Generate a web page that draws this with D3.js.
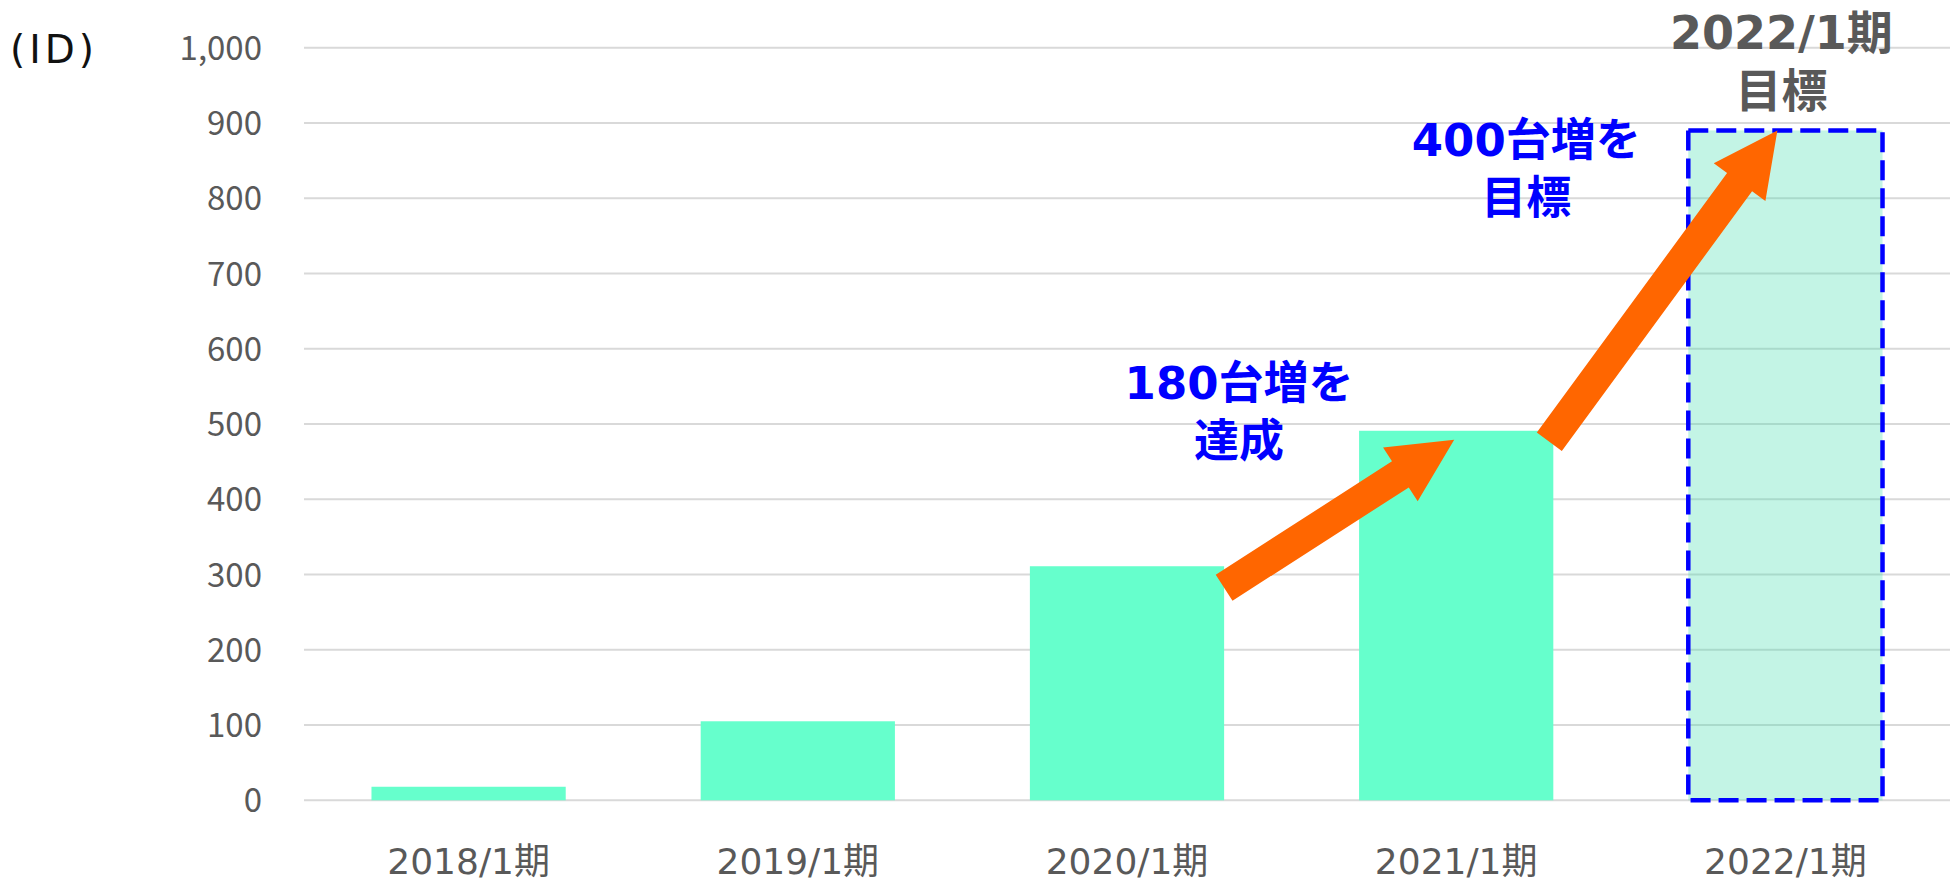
<!DOCTYPE html>
<html>
<head>
<meta charset="utf-8">
<script src="https://cdn.jsdelivr.net/npm/d3@7"></script>
<style>
  body { margin: 0; background: #ffffff; }
  text { font-family: "DejaVu Sans", "Noto Sans CJK JP", sans-serif; }
</style>
</head>
<body>
<svg id="v1" width="1950" height="883"></svg>
<script>
// chart data
var categories = ["2018/1期", "2019/1期", "2020/1期", "2021/1期", "2022/1期"];
var values = [18, 105, 311, 491, 890];
var targetCategory = "2022/1期";
var yTicks = [0, 100, 200, 300, 400, 500, 600, 700, 800, 900, 1000];
var unitLabel = "(ID)";
var targetLabel = ["2022/1期", "目標"];
var note1 = ["180台増を", "達成"];
var note2 = ["400台増を", "目標"];

v1()

function v1() {
    var svg = d3.select("#v1")
    var left = 304, right = 1950, top = 47.7, bottom = 800.3;

    //scales
    var x = d3.scaleBand()
        .domain(categories)
        .range([left, right])
        .paddingInner(0.41)
        .paddingOuter(0.205);
    var y = d3.scaleLinear()
        .domain([0, 1000])
        .range([bottom, top]);
    var bw = x.bandwidth();

    //gridlines
    svg.append("g")
        .selectAll("line")
        .data(yTicks)
        .enter()
        .append("line")
        .attr("x1", left)
        .attr("x2", right)
        .attr("y1", d => y(d))
        .attr("y2", d => y(d))
        .style("stroke", "#d9d9d9")
        .style("stroke-width", 2)

    //y axis labels
    var yAxis = d3.axisLeft(y)
        .tickValues(yTicks)
        .tickSize(0)
        .tickPadding(0)
        .tickFormat(d3.format(","));
    var gy = svg.append("g")
        .attr("transform", "translate(262,0)")
        .call(yAxis);
    gy.select(".domain").remove();
    gy.selectAll("text")
        .attr("dy", "0.35em")
        .style("font-size", "33px")
        .style("font-family", "'Noto Sans CJK JP', sans-serif")
        .style("fill", "#595959");

    //x axis labels
    var xAxis = d3.axisBottom(x).tickSize(0).tickPadding(0);
    var gx = svg.append("g")
        .attr("transform", "translate(0,861)")
        .call(xAxis);
    gx.select(".domain").remove();
    gx.selectAll("text")
        .attr("dy", "0.36em")
        .style("font-size", "36px")
        .style("font-family", "'DejaVu Sans', 'Noto Sans CJK JP', sans-serif")
        .style("fill", "#595959");

    //unit
    svg.append("text")
        .attr("x", 10)
        .attr("y", 63)
        .style("font-size", "39px")
        .style("letter-spacing", "4px")
        .style("fill", "#111111")
        .text(unitLabel);

    //bars
    var data = categories.map((c, i) => ({ cat: c, value: values[i] }));
    svg.append("g")
        .selectAll("rect")
        .data(data.filter(d => d.cat != targetCategory))
        .enter()
        .append("rect")
        .attr("x", d => x(d.cat))
        .attr("y", d => y(d.value))
        .attr("width", bw)
        .attr("height", d => y(0) - y(d.value))
        .style("fill", "#66ffcc");

    //target bar
    svg.append("g")
        .selectAll("rect")
        .data(data.filter(d => d.cat == targetCategory))
        .enter()
        .append("rect")
        .attr("x", d => x(d.cat))
        .attr("y", d => y(d.value))
        .attr("width", bw)
        .attr("height", d => y(0) - y(d.value))
        .style("fill", "rgb(61,220,170)")
        .style("fill-opacity", 0.31)
        .style("stroke", "#0000ff")
        .style("stroke-width", 4.5)
        .style("stroke-dasharray", "20,8");

    //arrows
    var v = {};
    data.forEach(d => v[d.cat] = d.value);
    var arrows = [
        [x("2020/1期") + bw, y(v["2020/1期"]) + 21.5, x("2021/1期") + bw / 2 - 2, y(v["2021/1期"]) + 9],
        [x("2021/1期") + bw - 4, y(v["2021/1期"]) + 11, x("2022/1期") + bw / 2 - 8, y(v["2022/1期"])]
    ];
    svg.append("g")
        .selectAll("path")
        .data(arrows)
        .enter()
        .append("path")
        .attr("d", d => arrowPath(d[0], d[1], d[2], d[3], 31, 64, 64))
        .style("fill", "#ff6600");

    //notes
    addLines(svg, note1, x("2021/1期") - 120, 383, "#0000ff", 45);
    addLines(svg, note2, x("2022/1期") - 162, 140, "#0000ff", 45);
    addLines(svg, targetLabel, x(targetCategory) + bw / 2 - 4, 32, "#595959", 46);
}

function addLines(svg, lines, cx, cy, color, size) {
    svg.append("g")
        .selectAll("text")
        .data(lines)
        .enter()
        .append("text")
        .attr("x", cx)
        .attr("y", (d, i) => cy + i * 58)
        .attr("dy", "0.36em")
        .attr("text-anchor", "middle")
        .style("font-size", size + "px")
        .style("font-weight", "bold")
        .style("fill", color)
        .text(d => d);
}

function arrowPath(x1, y1, x2, y2, w, hw, hl) {
    var dx = x2 - x1, dy = y2 - y1;
    var len = Math.sqrt(dx * dx + dy * dy);
    var ux = dx / len, uy = dy / len;
    var nx = -uy, ny = ux;
    var bx = x2 - ux * hl, by = y2 - uy * hl;
    var pts = [
        [x1 + nx * w / 2, y1 + ny * w / 2],
        [bx + nx * w / 2, by + ny * w / 2],
        [bx + nx * hw / 2, by + ny * hw / 2],
        [x2, y2],
        [bx - nx * hw / 2, by - ny * hw / 2],
        [bx - nx * w / 2, by - ny * w / 2],
        [x1 - nx * w / 2, y1 - ny * w / 2]
    ];
    return "M" + pts.map(p => p[0] + "," + p[1]).join("L") + "Z";
}
</script>
</body>
</html>
